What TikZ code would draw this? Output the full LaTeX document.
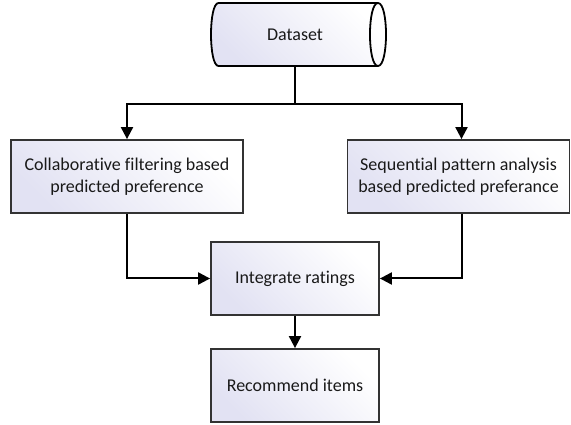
\documentclass[tikz,border=0pt]{standalone}
\usepackage{fontspec}
\setmainfont{Carlito}[Ligatures=NoCommon]
\usetikzlibrary{arrows.meta,calc}
\begin{document}
\begin{tikzpicture}[x=1pt,y=-1pt,
  font=\fontsize{18}{21.5}\selectfont,
  % y axis points down here, so this angle puts the tint at the upper left
  boxfill/.style={left color=boxtint,right color=white,shading angle=135},
  flowbox/.style={rectangle,draw=black!80,line width=1.8pt,boxfill,
    align=center,text=black!90,inner sep=0pt},
  flow/.style={line width=2pt,-{Triangle[length=12pt,width=12pt]}},
  plain/.style={line width=2pt}]
\definecolor{boxtint}{HTML}{E2E2F3}
\useasboundingbox (0,0) rectangle (571,425);

% horizontal cylinder for the data source
\node (ds) [minimum width=174pt,minimum height=63pt,inner sep=0pt] at (297.5,34.5) {};
\shade[boxfill,draw=black,line width=1.8pt]
  (218.5,3) -- (378,3) .. controls (388.7,3) and (388.7,66) .. (378,66)
  -- (218.5,66) .. controls (208.5,66) and (208.5,3) .. (218.5,3) -- cycle;
\draw[black,line width=1.8pt] (378,3) .. controls (367.3,3) and (367.3,66) .. (378,66);
\node[text=black!90] at (295,34.5) {Dataset};

% processing steps
\node[flowbox,minimum width=232pt,minimum height=73pt] (cf) at (127,176.5)
  {Collaborative filtering based\\predicted preference};
\node[flowbox,minimum width=222pt,minimum height=73pt] (sp) at (458.5,176.5)
  {Sequential pattern analysis\\based predicted preferance};
\node[flowbox,minimum width=168pt,minimum height=73pt] (ir) at (295,278.5)
  {Integrate ratings};
\node[flowbox,minimum width=168pt,minimum height=73pt] (ri) at (295,385.5)
  {Recommend items};

% connectors
\coordinate (split) at (295,104);
\draw[plain] (295,66) -- (split);
\draw[flow] (split) -| (cf.north);
\draw[flow] (split) -| ([xshift=3pt]sp.north);
\draw[flow] (cf.south) |- (ir.west);
\draw[flow] ([xshift=3pt]sp.south) |- (ir.east);
\draw[flow] (ir.south) -- (ri.north);
\end{tikzpicture}
\end{document}
